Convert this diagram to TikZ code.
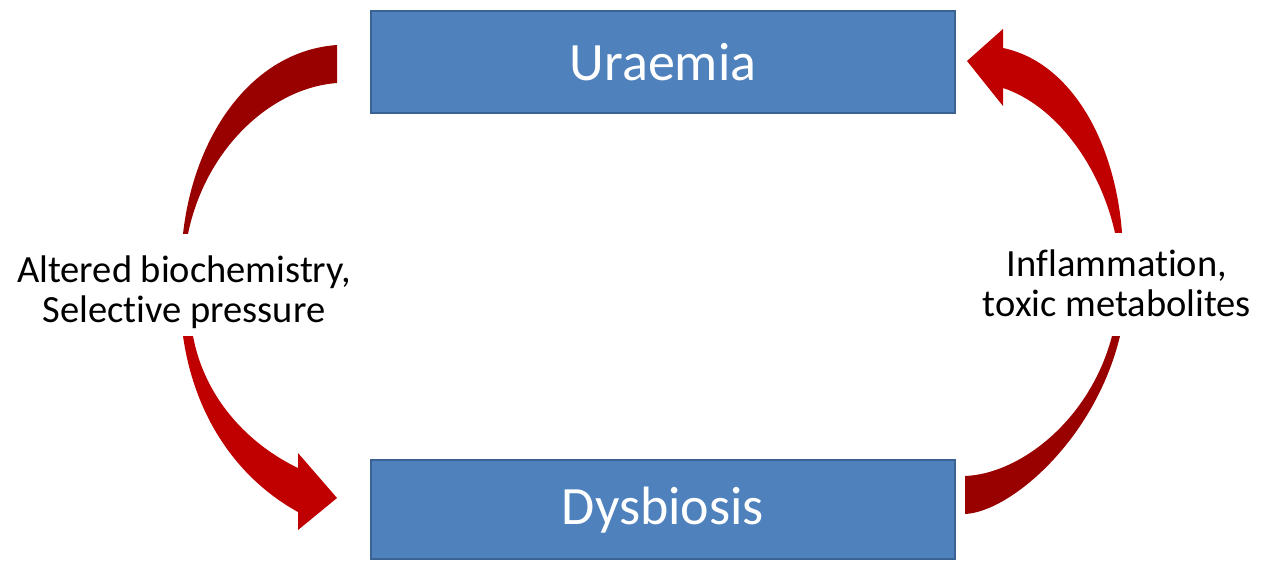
\documentclass[tikz,border=0pt]{standalone}
\usepackage{fontspec}
\setmainfont{Carlito}[Ligatures={NoCommon,NoRare}]
\definecolor{boxfill}{HTML}{4F81BD}
\definecolor{boxline}{HTML}{3A6393}
\definecolor{darkred}{HTML}{990000}
\definecolor{brightred}{HTML}{C00000}
\begin{document}
\begin{tikzpicture}[x=1pt,y=-1pt,
  blockbox/.style={fill=boxfill,draw=boxline,line width=2pt},
  blocktext/.style={text=white,font=\fontsize{54}{60}\selectfont,inner sep=0pt},
  labeltext/.style={align=center,font=\fontsize{38.5}{40}\selectfont,inner sep=0pt},
  darkarc/.style={fill=darkred,draw=none},
  brightarc/.style={fill=brightred,draw=none}]
\useasboundingbox (0,0) rectangle (1268,561);
% boxes
\draw[blockbox] (371,11) rectangle (955,113);
\draw[blockbox] (371,460) rectangle (955,559);
\node[blocktext] (uraemia) at (663,62) {Uraemia};
\node[blocktext] (dysbiosis) at (663,510) {Dysbiosis};
% labels
\node[labeltext] (leftlabel) at (184,292) {Altered biochemistry,\\Selective pressure};
\node[labeltext] (rightlabel) at (1117,283) {Inflammation,\\toxic metabolites};
% left top arc
\fill[darkarc] (337,45) .. controls (252,51) and (194,135) .. (183,234)
  -- (188,234) .. controls (205,150) and (270,88) .. (337,83) -- cycle;
% left bottom arrow
\fill[brightarc] (183,336) .. controls (195,420) and (240,480) .. (298,512)
  -- (298,530) -- (337,498) -- (298,453) -- (298,468)
  .. controls (250,445) and (205,400) .. (193,336) -- cycle;
% right top arrow
\fill[brightarc] (1003,48) -- (1003,29) -- (967,61) -- (1003,106) -- (1003,88)
  .. controls (1055,105) and (1100,165) .. (1115,233)
  -- (1122,233) .. controls (1115,140) and (1070,62) .. (1003,48) -- cycle;
% right bottom arc
\fill[darkarc] (965,514) .. controls (1010,512) and (1095,440) .. (1120,336)
  -- (1112,336) .. controls (1090,420) and (1020,474) .. (965,476) -- cycle;
\end{tikzpicture}
\end{document}
